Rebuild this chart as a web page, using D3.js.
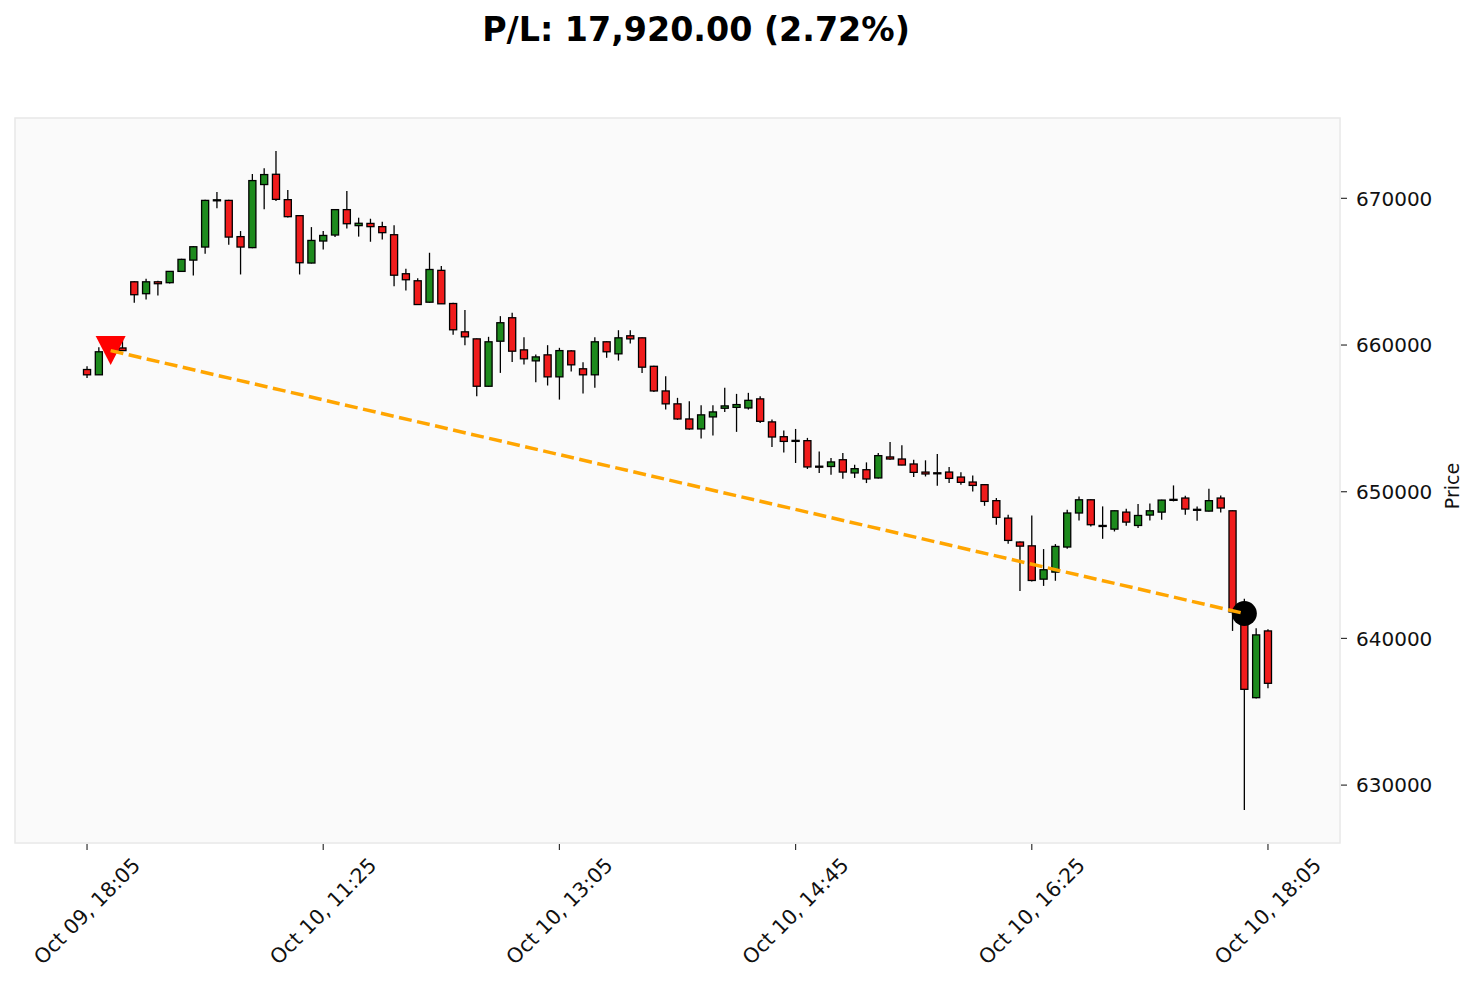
<!DOCTYPE html>
<html>
<head>
<meta charset="utf-8">
<script src="https://cdn.jsdelivr.net/npm/d3@7"></script>
<style>
  body { margin: 0; background: #ffffff; }
  svg { display: block; font-family: 'DejaVu Sans', sans-serif; }
</style>
</head>
<body>
<svg id="canvas" width="1477" height="987"></svg>
<script>
// 5 minute candles
let opens = [
  658330, 657970, 659540, 659800, 664310, 663500, 664310, 664250, 665020, 665790,
  666680, 669850, 669860, 667390, 666640, 670940, 671640, 669910, 668820, 665590,
  667090, 667500, 669230, 668140, 668290, 668070, 667520, 664860, 664380, 662920,
  665090, 662830, 660900, 660420, 657190, 660260, 661860, 659670, 658920, 659330,
  657830, 659600, 658380, 657970, 660220, 659400, 660630, 660490, 658550, 656870,
  655990, 654960, 654280, 655100, 655690, 655750, 655710, 656330, 654760, 653750,
  653500, 653480, 651740, 651720, 652180, 651280, 651500, 650940, 652370, 652230,
  651890, 651340, 651290, 651340, 651000, 650660, 650480, 649390, 648200, 646570,
  646310, 644040, 644520, 646230, 648550, 649450, 647700, 647450, 648610, 647700,
  648410, 648610, 649450, 649570, 648800, 648680, 649570, 648700, 641800, 635960,
  640510
]
let highs = [
  658550, 659850, 659800, 660370, 664350, 664520, 664380, 665050, 665880, 666750,
  669900, 670430, 669900, 667770, 671660, 672050, 673230, 670570, 668850, 668040,
  667770, 669260, 670500, 668680, 668610, 668410, 668160, 665200, 664560, 666290,
  665380, 662880, 662380, 660450, 660560, 661970, 662200, 660530, 659350, 659990,
  659810, 659650, 658830, 660530, 660250, 661010, 661010, 660520, 658580, 657870,
  656400, 656160, 655890, 655890, 657080, 656670, 656740, 656510, 654920, 654180,
  654280, 653670, 652750, 652300, 652640, 651840, 652000, 652640, 653390, 653160,
  652180, 652140, 652570, 651690, 651320, 651110, 650500, 649570, 648430, 646610,
  648380, 646090, 646430, 648770, 649680, 649480, 649000, 648720, 648840, 649160,
  649200, 649450, 650430, 649730, 649000, 650200, 649750, 648720, 642700, 640700,
  640630
]
let lows = [
  657760, 657950, 659230, 659600, 662880, 663110, 663380, 664200, 664990, 664740,
  666230, 669320, 666840, 664810, 666600, 669250, 669820, 668700, 664810, 665560,
  666520, 667360, 667950, 667390, 667040, 667200, 664010, 663720, 662740, 662880,
  662790, 660700, 659990, 656500, 657150, 658100, 658850, 658670, 657460, 657240,
  656280, 658190, 656690, 657080, 659130, 658940, 660100, 658100, 656800, 655600,
  654900, 654230, 653620, 653840, 655440, 654080, 655600, 654690, 653050, 652680,
  651960, 651550, 651280, 651160, 650890, 650940, 650590, 650900, 652180, 651800,
  651000, 651040, 650410, 650590, 650480, 650020, 649040, 647750, 646450, 643240,
  643880, 643580, 643930, 646110, 648040, 647630, 646790, 647290, 647680, 647520,
  648040, 648090, 649340, 648430, 648020, 648650, 648590, 640510, 628300, 635900,
  636600
]
let closes = [
  657970, 659540, 659700, 659620, 663430, 664310, 664180, 665020, 665840, 666700,
  669860, 669900, 667360, 666680, 671210, 671620, 669930, 668750, 665610, 667130,
  667470, 669230, 668270, 668300, 668070, 667660, 664760, 664450, 662760, 665150,
  662810, 661040, 660560, 657190, 660220, 661520, 659580, 659060, 659190, 657830,
  659620, 658650, 657970, 660220, 659540, 660490, 660420, 658490, 656870, 655990,
  654960, 654280, 655240, 655440, 655850, 655940, 656230, 654800, 653730, 653430,
  653480, 651690, 651720, 652030, 651340, 651570, 650870, 652460, 652230, 651820,
  651320, 651210, 651270, 650910, 650640, 650430, 649340, 648250, 646680, 646290,
  643950, 644680, 646270, 648550, 649450, 647750, 647650, 648700, 647930, 648380,
  648700, 649430, 649480, 648820, 648780, 649390, 648890, 641800, 636530, 640240,
  636940
]

let tickIndex = [0, 20, 40, 60, 80, 100]
let tickLabels = ['Oct 09, 18:05', 'Oct 10, 11:25', 'Oct 10, 13:05', 'Oct 10, 14:45', 'Oct 10, 16:25', 'Oct 10, 18:05']
let priceTicks = [630000, 640000, 650000, 660000, 670000]

// the trade
let entryIndex = 2
let entryPrice = 659620
let exitIndex = 98
let exitPrice = 641700

let upColor = '#1d8a1d'
let downColor = '#f01c1c'

let svg = d3.select('#canvas')

let plotLeft = 15
let plotRight = 1340
let plotTop = 118
let plotBottom = 843

let candles = opens.map((o, i) => {
    return {i: i, open: o, high: highs[i], low: lows[i], close: closes[i]}
})

let xScale = d3.scaleLinear()
    .domain([-6.1, candles.length - 1 + 6.1])
    .range([plotLeft, plotRight])

let lo = d3.min(lows)
let hi = d3.max(highs)
let pad = (hi - lo) * 0.05
let yScale = d3.scaleLinear()
    .domain([lo - pad, hi + pad])
    .range([plotBottom, plotTop])

let drawFrame = () => {
    svg.append('rect')
        .attr('x', plotLeft)
        .attr('y', plotTop)
        .attr('width', plotRight - plotLeft)
        .attr('height', plotBottom - plotTop)
        .attr('fill', '#fafafa')
        .attr('stroke', '#e8e8e8')
        .attr('stroke-width', 1.5)

    let pl = entryPrice - exitPrice
    let pct = pl / entryPrice * 100
    svg.append('text')
        .attr('x', 696)
        .attr('y', 41)
        .attr('text-anchor', 'middle')
        .style('font-size', '33.3px')
        .style('font-weight', 'bold')
        .text('P/L: ' + d3.format(',.2f')(pl) + ' (' + pct.toFixed(2) + '%)')
}

let drawAxes = () => {
    let yTicks = svg.append('g')
        .selectAll('g')
        .data(priceTicks)
        .enter()
        .append('g')
        .attr('transform', (d) => 'translate(' + plotRight + ',' + yScale(d) + ')')
    yTicks.append('line')
        .attr('x1', 1).attr('x2', 7)
        .attr('stroke', '#333').attr('stroke-width', 1.2)
    yTicks.append('text')
        .attr('x', 16)
        .attr('dy', '0.36em')
        .style('font-size', '20px')
        .attr('fill', '#111')
        .text((d) => d)

    svg.append('text')
        .attr('transform', 'translate(1459,486) rotate(-90)')
        .attr('text-anchor', 'middle')
        .style('font-size', '19px')
        .attr('fill', '#111')
        .text('Price')

    let xTicks = svg.append('g')
        .selectAll('g')
        .data(tickIndex)
        .enter()
        .append('g')
    xTicks.append('line')
        .attr('x1', (d) => xScale(d)).attr('x2', (d) => xScale(d))
        .attr('y1', plotBottom + 1).attr('y2', plotBottom + 7)
        .attr('stroke', '#333').attr('stroke-width', 1.2)
    xTicks.append('text')
        .style('font-size', '20.5px')
        .attr('fill', '#111')
        .attr('text-anchor', 'middle')
        .attr('dominant-baseline', 'central')
        .text((d, k) => tickLabels[k])
        .attr('transform', function (d) {
            let len = this.getComputedTextLength()
            let half = (len + 16) / (2 * Math.SQRT2)
            return 'translate(' + xScale(d) + ',' + (plotBottom + 13 + half) + ') rotate(-45)'
        })
}

let drawCandles = () => {
    let step = xScale(1) - xScale(0)
    let bodyW = step * 0.6

    let block = svg.append('g')
        .selectAll('g')
        .data(candles)
        .enter()
        .append('g')

    block.append('line')
        .attr('x1', (d) => xScale(d.i))
        .attr('x2', (d) => xScale(d.i))
        .attr('y1', (d) => yScale(d.high))
        .attr('y2', (d) => yScale(d.low))
        .attr('stroke', '#000')
        .attr('stroke-width', 1.3)

    block.append('rect')
        .attr('x', (d) => xScale(d.i) - bodyW / 2)
        .attr('y', (d) => yScale(Math.max(d.open, d.close)))
        .attr('width', bodyW)
        .attr('height', (d) => Math.max(1, Math.abs(yScale(d.open) - yScale(d.close))))
        .attr('fill', (d) => d.close >= d.open ? upColor : downColor)
        .attr('stroke', '#000')
        .attr('stroke-width', 1.3)
}

let drawTrade = () => {
    let ex = xScale(entryIndex)
    let ey = yScale(entryPrice)
    let qx = xScale(exitIndex)
    let qy = yScale(exitPrice)

    svg.append('circle')
        .attr('cx', qx)
        .attr('cy', qy)
        .attr('r', 12.5)
        .attr('fill', '#000')

    svg.append('path')
        .attr('d', 'M-15,-14.5 L15,-14.5 L0,14.5 Z')
        .attr('transform', 'translate(' + ex + ',' + ey + ')')
        .attr('fill', '#ff0000')

    svg.append('line')
        .attr('x1', ex).attr('y1', ey)
        .attr('x2', qx).attr('y2', qy)
        .attr('stroke', '#ffa500')
        .attr('stroke-width', 3.5)
        .attr('stroke-dasharray', '13,5.5')
}

drawFrame()
drawCandles()
drawTrade()
drawAxes()
</script>
</body>
</html>
